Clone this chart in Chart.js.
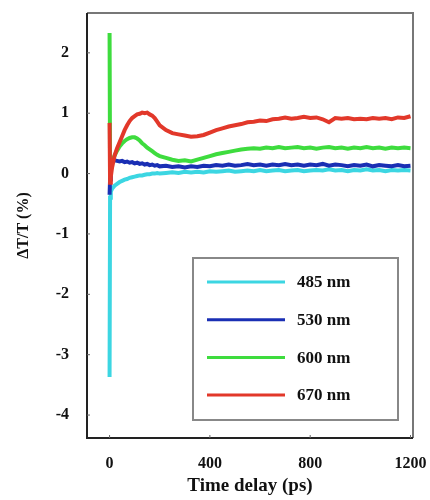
<!DOCTYPE html>
<html>
<head>
<meta charset="utf-8">
<script src="https://cdn.jsdelivr.net/npm/chart.js@4"></script>
<style>
  html, body { margin: 0; padding: 0; background: #fff; }
  #wrap { width: 430px; height: 500px; }
</style>
</head>
<body>
<div id="wrap"><canvas id="c" width="430" height="500"></canvas></div>
<script>
// time delay (ps)
var times = [0, 2, 5, 10, 20, 30, 40, 50, 60, 70, 80, 90, 100, 110, 120, 130, 140, 150, 160, 170, 180, 190, 200,
  225, 250, 275, 300, 325, 350, 375, 400, 425, 450, 475, 500, 525, 550, 575, 600, 625, 650, 675, 700,
  725, 750, 775, 800, 825, 850, 875, 900, 925, 950, 975, 1000, 1025, 1050, 1075, 1100, 1125, 1150, 1175, 1200];

var labels = ['485 nm', '530 nm', '600 nm', '670 nm'];
var colors = ['#3cd6e2', '#1a2fb4', '#3edc3e', '#e2382a'];

var s485 = [-3.37, -0.4, -0.3, -0.25, -0.2, -0.17, -0.14, -0.12, -0.1, -0.09, -0.07, -0.06, -0.05, -0.04, -0.03, -0.03, -0.02, -0.01, -0.01, 0.0, 0.0, 0.01, 0.0,
  0.01, 0.02, 0.01, 0.03, 0.02, 0.03, 0.02, 0.04, 0.03, 0.04, 0.05, 0.03, 0.04, 0.05, 0.04, 0.06, 0.04, 0.05, 0.06, 0.04,
  0.05, 0.06, 0.04, 0.05, 0.06, 0.05, 0.07, 0.05, 0.06, 0.04, 0.06, 0.05, 0.07, 0.05, 0.06, 0.04, 0.06, 0.05, 0.06, 0.05];
var s530 = [-0.35, -0.1, 0.1, 0.2, 0.22, 0.21, 0.2, 0.21, 0.19, 0.2, 0.18, 0.19, 0.17, 0.18, 0.16, 0.17, 0.15, 0.16, 0.14, 0.15, 0.13, 0.14, 0.12,
  0.13, 0.11, 0.12, 0.1, 0.12, 0.11, 0.13, 0.12, 0.14, 0.13, 0.15, 0.13, 0.14, 0.16, 0.14, 0.15, 0.13, 0.15, 0.14, 0.16,
  0.14, 0.15, 0.13, 0.15, 0.14, 0.16, 0.13, 0.15, 0.14, 0.12, 0.14, 0.13, 0.15, 0.12, 0.14, 0.13, 0.12, 0.14, 0.12, 0.13];
var s600 = [2.33, 0.0, 0.1, 0.2, 0.3, 0.38, 0.45, 0.5, 0.54, 0.57, 0.59, 0.6, 0.6, 0.58, 0.55, 0.5, 0.47, 0.43, 0.4, 0.37, 0.34, 0.31, 0.29,
  0.26, 0.23, 0.21, 0.22, 0.2, 0.23, 0.26, 0.29, 0.32, 0.34, 0.36, 0.38, 0.4, 0.41, 0.42, 0.41, 0.43, 0.42, 0.44, 0.42,
  0.43, 0.44, 0.42, 0.43, 0.41, 0.43, 0.44, 0.42, 0.43, 0.41, 0.43, 0.42, 0.44, 0.42, 0.43, 0.41, 0.43, 0.42, 0.43, 0.42];
var s670 = [0.84, -0.15, -0.05, 0.1, 0.3, 0.42, 0.52, 0.62, 0.72, 0.8, 0.87, 0.92, 0.95, 0.98, 0.99, 1.01, 1.0, 1.01, 0.98, 0.96, 0.92, 0.86, 0.8,
  0.72, 0.67, 0.65, 0.63, 0.61, 0.62, 0.64, 0.68, 0.72, 0.75, 0.78, 0.8, 0.82, 0.85, 0.86, 0.88, 0.87, 0.9, 0.91, 0.93,
  0.91, 0.92, 0.94, 0.92, 0.93, 0.9, 0.85, 0.92, 0.91, 0.92, 0.9, 0.91, 0.9, 0.92, 0.91, 0.92, 0.9, 0.93, 0.92, 0.95];

var series = [s485, s530, s600, s670];
var xTicks = [0, 400, 800, 1200];
var yTicks = [-4, -3, -2, -1, 0, 1, 2];

var FONT = '"Liberation Serif", "DejaVu Serif", serif';

function pts(vals) {
  return vals.map(function(v, i) { return { x: times[i], y: v }; });
}

// frame, inner ticks and legend box
var framePlugin = {
  id: 'frame',
  afterDatasetsDraw: function(chart) {
    var ctx = chart.ctx, a = chart.chartArea;
    var xs = chart.scales.x, ys = chart.scales.y;
    ctx.save();
    ctx.lineWidth = 2;
    ctx.strokeStyle = '#777';
    ctx.beginPath();
    ctx.moveTo(a.left, a.top); ctx.lineTo(a.right, a.top); ctx.lineTo(a.right, a.bottom);
    ctx.stroke();
    ctx.strokeStyle = '#222';
    ctx.beginPath();
    ctx.moveTo(a.left, a.top); ctx.lineTo(a.left, a.bottom); ctx.lineTo(a.right, a.bottom);
    ctx.stroke();

    // small inner ticks
    ctx.lineWidth = 1;
    ctx.strokeStyle = '#666';
    yTicks.forEach(function(v) {
      var y = ys.getPixelForValue(v);
      ctx.beginPath(); ctx.moveTo(a.left, y); ctx.lineTo(a.left + 3, y); ctx.stroke();
    });
    xTicks.forEach(function(v) {
      var x = xs.getPixelForValue(v);
      ctx.beginPath(); ctx.moveTo(x, a.bottom); ctx.lineTo(x, a.bottom - 3); ctx.stroke();
    });

    // legend
    var bx = a.left + 106, by = a.top + 245, bw = 205, bh = 162;
    ctx.fillStyle = '#fff';
    ctx.fillRect(bx, by, bw, bh);
    ctx.lineWidth = 2;
    ctx.strokeStyle = '#888';
    ctx.strokeRect(bx, by, bw, bh);
    ctx.font = 'bold 17px ' + FONT;
    ctx.textBaseline = 'middle';
    ctx.textAlign = 'left';
    chart.data.datasets.forEach(function(ds, i) {
      var y = by + 24 + i * 37.7;
      ctx.strokeStyle = ds.borderColor;
      ctx.lineWidth = 3;
      ctx.beginPath(); ctx.moveTo(bx + 14, y); ctx.lineTo(bx + 92, y); ctx.stroke();
      ctx.fillStyle = '#111';
      ctx.fillText(ds.label, bx + 104, y + 1);
    });
    ctx.restore();
  }
};

new Chart(document.getElementById('c'), {
  type: 'line',
  data: {
    datasets: series.map(function(s, i) {
      return {
        label: labels[i],
        data: pts(s),
        borderColor: colors[i],
        backgroundColor: colors[i],
        borderWidth: 4,
        pointRadius: 0,
        tension: 0,
        order: 3 - i
      };
    })
  },
  options: {
    responsive: false,
    animation: false,
    events: [],
    layout: { padding: { left: 0, top: 13, right: 17, bottom: 0 } },
    plugins: { legend: { display: false }, tooltip: { enabled: false } },
    scales: {
      x: {
        type: 'linear',
        min: -90,
        max: 1210,
        grid: { display: false },
        border: { display: false },
        afterBuildTicks: function(s) { s.ticks = xTicks.map(function(v) { return { value: v }; }); },
        afterFit: function(s) { s.height = 62; s.paddingLeft = 0; s.paddingRight = 0; },
        ticks: {
          font: { family: FONT, size: 16, weight: 'bold' }, color: '#111', padding: 8, maxRotation: 0,
          callback: function(v) { return String(v); }
        },
        title: { display: true, text: 'Time delay (ps)', font: { family: FONT, size: 19, weight: 'bold' }, color: '#111', padding: { top: 4, bottom: 3 } }
      },
      y: {
        min: -4.38,
        max: 2.66,
        grid: { display: false },
        border: { display: false },
        afterBuildTicks: function(s) { s.ticks = yTicks.map(function(v) { return { value: v }; }); },
        afterFit: function(s) { s.width = 87; s.paddingTop = 0; s.paddingBottom = 0; },
        ticks: { font: { family: FONT, size: 16, weight: 'bold' }, color: '#111', padding: 10 },
        title: { display: true, text: 'ΔT/T (%)', font: { family: FONT, size: 16, weight: 'bold' }, color: '#111', padding: { top: 14, bottom: 0 } }
      }
    }
  },
  plugins: [framePlugin]
});
</script>
</body>
</html>
